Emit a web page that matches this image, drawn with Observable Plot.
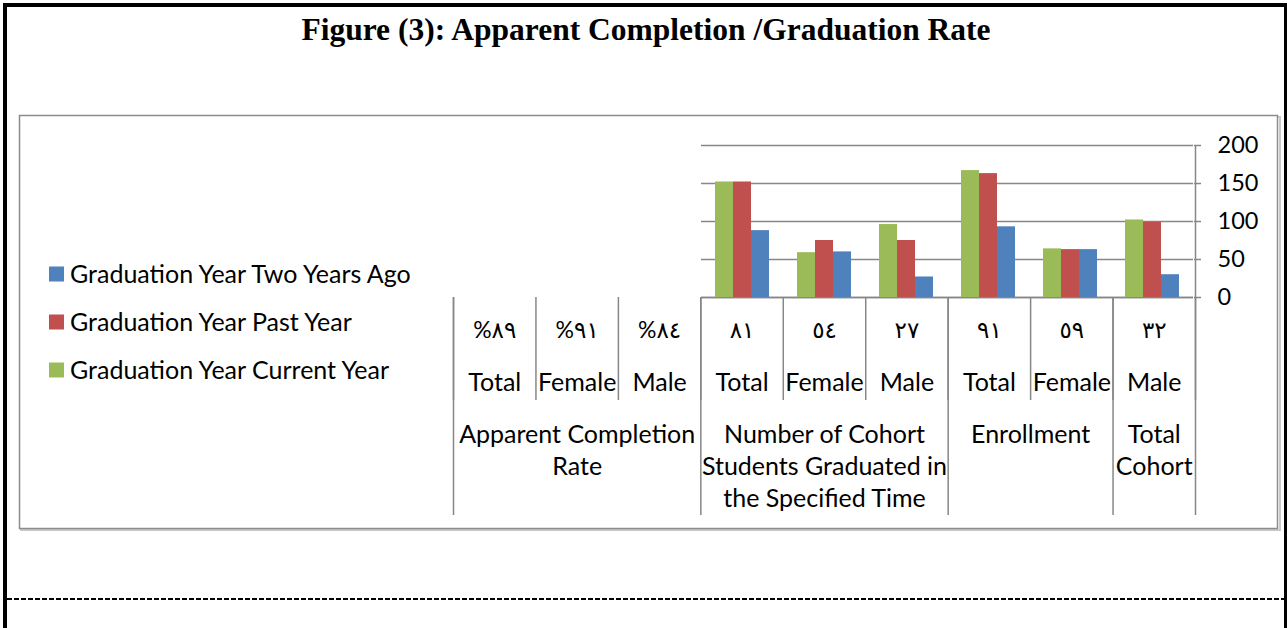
<!DOCTYPE html>
<html>
<head>
<meta charset="utf-8">
<script src="https://cdn.jsdelivr.net/npm/d3@7"></script>
<script src="https://cdn.jsdelivr.net/npm/@observablehq/plot@0.6"></script>
<style>
  html, body { margin: 0; padding: 0; background: #fff; }
  #page { position: relative; width: 1287px; height: 628px; overflow: hidden; background: #fff; }
  #page > svg { position: absolute; left: 0; top: 0; }
</style>
</head>
<body>
<div id="page"></div>
<script>
// ---------- data ----------
const title = "Figure (3): Apparent Completion /Graduation Rate";
const categories = ["Total", "Female", "Male", "Total", "Female", "Male", "Total", "Female", "Male"];
const tableValues = ["%٨٩", "%٩١", "%٨٤", "٨١", "٥٤", "٢٧", "٩١", "٥٩", "٣٢"];
const groupLabels = ["Apparent Completion\nRate", "Number of Cohort\nStudents Graduated in\nthe Specified Time", "Enrollment", "Total\nCohort"];
const groupSizes = [3, 3, 2, 1];
const series = ["Graduation Year Current Year", "Graduation Year Past Year", "Graduation Year Two Years Ago"];
const seriesColors = ["#9BBB59", "#C0504D", "#4F81BD"];
const currentYear = [null, null, null, 152, 59, 96, 167, 64, 102];
const pastYear    = [null, null, null, 152, 75, 75, 163, 63, 99];
const twoYearsAgo = [null, null, null, 88, 60, 27, 93, 63, 30];
const yTicks = [0, 50, 100, 150, 200];

// ---------- derived tables ----------
const groupStarts = groupSizes.map((n, g) => d3.sum(groupSizes.slice(0, g)));
const colGroup = categories.map((c, i) => d3.bisectRight(groupStarts, i) - 1);
const colKeys = categories.map((c, i) => `${colGroup[i]}:${c}`);
const seriesValues = [currentYear, pastYear, twoYearsAgo];
const bars = [];
categories.forEach((c, i) => seriesValues.forEach((arr, s) => {
  if (arr[i] != null) bars.push({col: colKeys[i], series: series[s], value: arr[i]});
}));
const groups = groupLabels.map((label, g) => ({label, start: groupStarts[g], n: groupSizes[g]}));
const colBounds = d3.range(categories.length + 1);
const groupBounds = [...groupStarts, categories.length];

const FONT = "Lato, 'DejaVu Sans', sans-serif";
const GRID = "#878787";
const W = 1287, H = 628;
const M = {left: 453, right: 92, top: 145, bottom: 331};
const TXT = 25;

const page = document.getElementById("page");

// ---------- page decoration (frame, title, chart box, legend) ----------
const deco = d3.create("svg").attr("width", W).attr("height", H);
deco.append("rect").attr("x", 3).attr("y", 3).attr("width", 4).attr("height", H).attr("fill", "#000");
deco.append("rect").attr("x", 3).attr("y", 3).attr("width", W).attr("height", 4).attr("fill", "#000");
deco.append("rect").attr("x", 1284).attr("y", 3).attr("width", 4).attr("height", H).attr("fill", "#000");
deco.append("line").attr("x1", 7).attr("x2", 1284).attr("y1", 599).attr("y2", 599)
  .attr("stroke", "#000").attr("stroke-width", 2).attr("stroke-dasharray", "5,2");
deco.append("text").attr("x", 646).attr("y", 40).attr("text-anchor", "middle")
  .attr("font-family", "'Liberation Serif', serif").attr("font-weight", "bold").attr("font-size", 31.5)
  .text(title);
// chart box with soft shadow
deco.append("rect").attr("x", 21).attr("y", 117).attr("width", 1259).attr("height", 413)
  .attr("fill", "none").attr("stroke", "#c9c9c9").attr("stroke-width", 2);
deco.append("rect").attr("x", 19.5).attr("y", 115.5).attr("width", 1258).attr("height", 413)
  .attr("fill", "#fff").attr("stroke", "#8c8c8c").attr("stroke-width", 1.5);
// legend
const legendOrder = [2, 1, 0];
legendOrder.forEach((s, k) => {
  const cy = 274 + k * 48;
  deco.append("rect").attr("x", 49).attr("y", cy - 7.5).attr("width", 15).attr("height", 15).attr("fill", seriesColors[s]);
  deco.append("text").attr("x", 70).attr("y", cy).attr("dy", "0.36em")
    .attr("font-family", FONT).attr("font-size", TXT).attr("fill", "#000").text(series[s]);
});
page.appendChild(deco.node());

// ---------- bars (faceted by column) ----------
const barsPlot = Plot.plot({
  width: W, height: H,
  marginLeft: M.left, marginRight: M.right, marginTop: M.top, marginBottom: M.bottom,
  style: {background: "transparent", fontFamily: FONT, overflow: "visible"},
  fx: {domain: colKeys, padding: 0, axis: null, label: null},
  x: {domain: series, paddingInner: 0, paddingOuter: 0.75, axis: null, label: null},
  y: {domain: [0, 200], axis: null, label: null},
  color: {domain: series, range: seriesColors},
  marks: [
    Plot.gridY(yTicks, {stroke: GRID, strokeOpacity: 1, strokeWidth: 1.5}),
    Plot.ruleY([0], {stroke: GRID, strokeWidth: 1.5}),
    Plot.barY(bars, {fx: "col", x: "series", y: "value", fill: "series"}),
    Plot.axisY(yTicks, {anchor: "right", tickSize: 7, tickPadding: 17, fontSize: 23.5,
      stroke: GRID, strokeWidth: 1.5, fill: "#000", label: null, tickFormat: d => String(d)})
  ]
});
page.appendChild(barsPlot);

// ---------- category table under the axis ----------
const tablePlot = Plot.plot({
  width: W, height: H,
  marginLeft: M.left, marginRight: M.right, marginTop: 297, marginBottom: 113,
  style: {background: "transparent", fontFamily: FONT, overflow: "visible"},
  x: {domain: [0, categories.length], axis: null},
  y: {domain: [0, 1], axis: null},
  marks: [
    Plot.ruleX(colBounds, {x: d => d, stroke: GRID, strokeWidth: 1.5, insetBottom: 115}),
    Plot.ruleX(groupBounds, {x: d => d, stroke: GRID, strokeWidth: 1.5}),
    Plot.ruleX([categories.length], {x: d => d, stroke: GRID, strokeWidth: 1.5, insetTop: -152, insetBottom: 218}),
    Plot.text(tableValues, {x: (d, i) => i + 0.5, text: d => d, frameAnchor: "top", dy: 24,
      fontSize: 23, fill: "#000"}),
    Plot.text(categories, {x: (d, i) => i + 0.5, text: d => d, frameAnchor: "top", dy: 76,
      fontSize: TXT, fill: "#000"}),
    Plot.text(groups, {x: d => d.start + d.n / 2, text: "label", frameAnchor: "top", lineAnchor: "top",
      dy: 123, lineHeight: 1.28, fontSize: TXT, fill: "#000"})
  ]
});
page.appendChild(tablePlot);
</script>
</body>
</html>
